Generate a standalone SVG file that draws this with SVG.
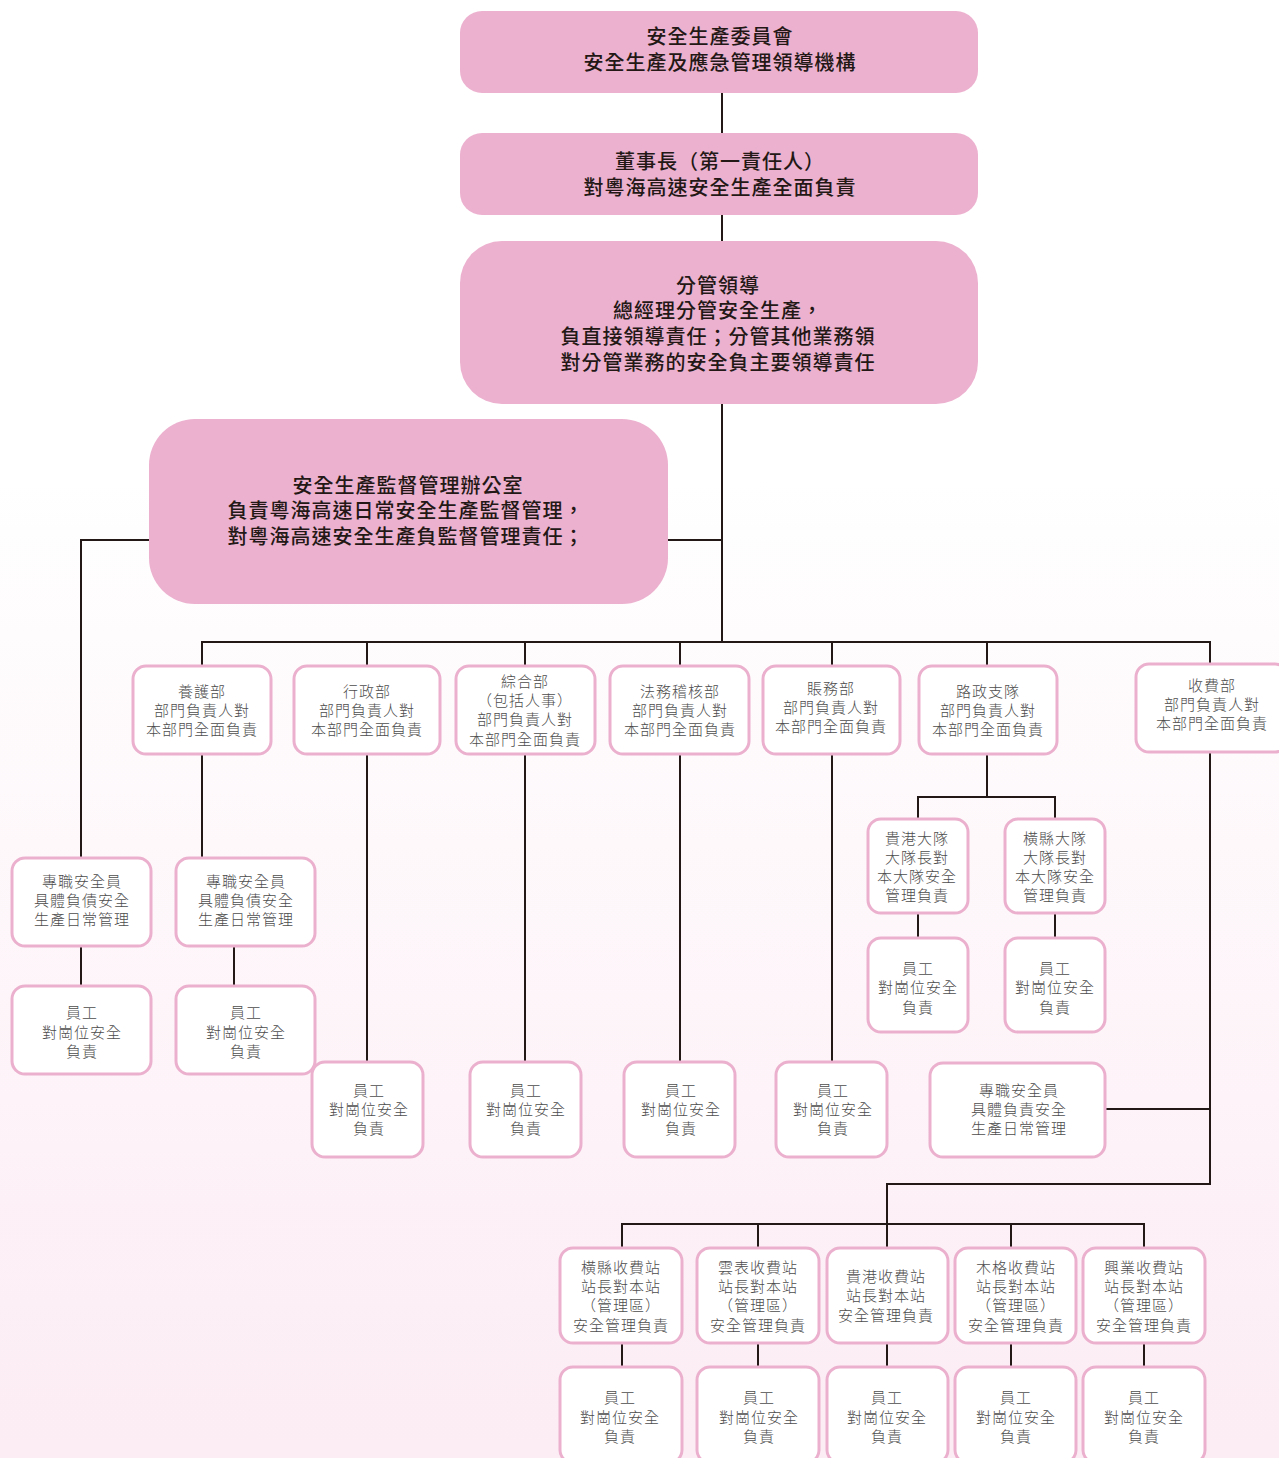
<svg xmlns="http://www.w3.org/2000/svg" width="1279" height="1458" viewBox="0 0 1279 1458">
<defs>
<linearGradient id="bg" x1="0" y1="0" x2="0" y2="1">
<stop offset="0" stop-color="#ffffff"/>
<stop offset="0.33" stop-color="#ffffff"/>
<stop offset="1" stop-color="#fcecf4"/>
</linearGradient>
</defs>
<style>
.big{fill:#ecb1cf;stroke:none}
.sm{fill:#ffffff;stroke:#ebb0cd;stroke-width:3}
.bt{font-family:"Noto Sans CJK TC","Noto Sans CJK SC",sans-serif;font-size:20px;font-weight:500;fill:#231815;text-anchor:middle;letter-spacing:1px}
.st{font-family:"Noto Sans CJK TC","Noto Sans CJK SC",sans-serif;font-size:15px;font-weight:300;fill:#4d4d4d;text-anchor:middle;letter-spacing:1px}
.ln{fill:none;stroke:#231815;stroke-width:2}
</style>
<rect x="0" y="0" width="1279" height="1458" fill="url(#bg)"/>
<g id="connectors" class="ln">
<path d="M722 93V133"/>
<path d="M722 215V241"/>
<path d="M722 404V642"/>
<path d="M668 540H722"/>
<path d="M149 540H81V858"/>
<path d="M202 666V642H1210V663"/>
<path d="M367 642V666"/>
<path d="M525 642V666"/>
<path d="M680 642V666"/>
<path d="M832 642V666"/>
<path d="M987 642V666"/>
<path d="M202 754V858"/>
<path d="M81 946V986"/>
<path d="M234 946V986"/>
<path d="M367 754V1062"/>
<path d="M525 754V1062"/>
<path d="M680 754V1062"/>
<path d="M832 754V1062"/>
<path d="M987 754V797"/>
<path d="M918 819V797H1055V819"/>
<path d="M918 913V938"/>
<path d="M1055 913V938"/>
<path d="M1210 752V1184H887V1248"/>
<path d="M1105 1109H1210"/>
<path d="M622 1248V1224H1144V1248"/>
<path d="M758 1224V1248"/>
<path d="M1011 1224V1248"/>
<path d="M622 1343V1367"/>
<path d="M758 1343V1367"/>
<path d="M887 1343V1367"/>
<path d="M1011 1343V1367"/>
<path d="M1144 1343V1367"/>
</g>
<g id="committee">
<rect class="big" x="460" y="11" width="518" height="82" rx="22"/>
<text class="bt" x="720" y="44">安全生產委員會</text>
<text class="bt" x="720" y="70">安全生產及應急管理領導機構</text>
</g>
<g id="chairman">
<rect class="big" x="460" y="133" width="518" height="82" rx="22"/>
<text class="bt" x="720" y="169">董事長（第一責任人）</text>
<text class="bt" x="720" y="195">對粵海高速安全生產全面負責</text>
</g>
<g id="leaders">
<rect class="big" x="460" y="241" width="518" height="163" rx="42"/>
<text class="bt" x="718" y="293">分管領導</text>
<text class="bt" x="718" y="318">總經理分管安全生產，</text>
<text class="bt" x="718" y="344">負直接領導責任；分管其他業務領</text>
<text class="bt" x="718" y="370">對分管業務的安全負主要領導責任</text>
</g>
<g id="office">
<rect class="big" x="149" y="419" width="519" height="185" rx="46"/>
<text class="bt" x="408" y="493">安全生產監督管理辦公室</text>
<text class="bt" x="406" y="518">負責粵海高速日常安全生產監督管理，</text>
<text class="bt" x="406" y="544">對粵海高速安全生產負監督管理責任；</text>
</g>
<g id="dept-yanghu">
<rect class="sm" x="133" y="666" width="138" height="88" rx="13"/>
<text class="st" x="202" y="697">養護部</text>
<text class="st" x="202" y="716">部門負責人對</text>
<text class="st" x="202" y="735">本部門全面負責</text>
</g>
<g id="dept-xingzheng">
<rect class="sm" x="294" y="666" width="146" height="88" rx="13"/>
<text class="st" x="367" y="697">行政部</text>
<text class="st" x="367" y="716">部門負責人對</text>
<text class="st" x="367" y="735">本部門全面負責</text>
</g>
<g id="dept-zonghe">
<rect class="sm" x="456" y="666" width="139" height="88" rx="13"/>
<text class="st" x="525" y="687">綜合部</text>
<text class="st" x="525" y="706">（包括人事）</text>
<text class="st" x="525" y="725">部門負責人對</text>
<text class="st" x="525" y="745">本部門全面負責</text>
</g>
<g id="dept-fawu">
<rect class="sm" x="610" y="666" width="139" height="88" rx="13"/>
<text class="st" x="680" y="697">法務稽核部</text>
<text class="st" x="680" y="716">部門負責人對</text>
<text class="st" x="680" y="735">本部門全面負責</text>
</g>
<g id="dept-zhangwu">
<rect class="sm" x="763" y="666" width="137" height="88" rx="13"/>
<text class="st" x="831" y="694">賬務部</text>
<text class="st" x="831" y="713">部門負責人對</text>
<text class="st" x="831" y="732">本部門全面負責</text>
</g>
<g id="dept-luzheng">
<rect class="sm" x="919" y="666" width="138" height="88" rx="13"/>
<text class="st" x="988" y="697">路政支隊</text>
<text class="st" x="988" y="716">部門負責人對</text>
<text class="st" x="988" y="735">本部門全面負責</text>
</g>
<g id="dept-shoufei">
<rect class="sm" x="1136" y="664" width="152" height="88" rx="13"/>
<text class="st" x="1212" y="691">收費部</text>
<text class="st" x="1212" y="710">部門負責人對</text>
<text class="st" x="1212" y="729">本部門全面負責</text>
</g>
<g id="safety-officer-1">
<rect class="sm" x="12" y="858" width="139" height="88" rx="13"/>
<text class="st" x="82" y="887">專職安全員</text>
<text class="st" x="82" y="906">具體負債安全</text>
<text class="st" x="82" y="925">生產日常管理</text>
</g>
<g id="staff-1">
<rect class="sm" x="12" y="986" width="139" height="88" rx="13"/>
<text class="st" x="82" y="1018">員工</text>
<text class="st" x="82" y="1038">對崗位安全</text>
<text class="st" x="82" y="1057">負責</text>
</g>
<g id="safety-officer-2">
<rect class="sm" x="176" y="858" width="139" height="88" rx="13"/>
<text class="st" x="246" y="887">專職安全員</text>
<text class="st" x="246" y="906">具體負債安全</text>
<text class="st" x="246" y="925">生產日常管理</text>
</g>
<g id="staff-2">
<rect class="sm" x="176" y="986" width="139" height="88" rx="13"/>
<text class="st" x="246" y="1018">員工</text>
<text class="st" x="246" y="1038">對崗位安全</text>
<text class="st" x="246" y="1057">負責</text>
</g>
<g id="staff-xingzheng">
<rect class="sm" x="312" y="1062" width="111" height="95" rx="13"/>
<text class="st" x="369" y="1096">員工</text>
<text class="st" x="369" y="1115">對崗位安全</text>
<text class="st" x="369" y="1134">負責</text>
</g>
<g id="staff-zonghe">
<rect class="sm" x="470" y="1062" width="111" height="95" rx="13"/>
<text class="st" x="526" y="1096">員工</text>
<text class="st" x="526" y="1115">對崗位安全</text>
<text class="st" x="526" y="1134">負責</text>
</g>
<g id="staff-fawu">
<rect class="sm" x="624" y="1062" width="111" height="95" rx="13"/>
<text class="st" x="681" y="1096">員工</text>
<text class="st" x="681" y="1115">對崗位安全</text>
<text class="st" x="681" y="1134">負責</text>
</g>
<g id="staff-zhangwu">
<rect class="sm" x="776" y="1062" width="111" height="95" rx="13"/>
<text class="st" x="833" y="1096">員工</text>
<text class="st" x="833" y="1115">對崗位安全</text>
<text class="st" x="833" y="1134">負責</text>
</g>
<g id="brigade-guigang">
<rect class="sm" x="868" y="819" width="100" height="94" rx="13"/>
<text class="st" x="917" y="844">貴港大隊</text>
<text class="st" x="917" y="863">大隊長對</text>
<text class="st" x="917" y="882">本大隊安全</text>
<text class="st" x="917" y="901">管理負責</text>
</g>
<g id="brigade-hengxian">
<rect class="sm" x="1005" y="819" width="100" height="94" rx="13"/>
<text class="st" x="1055" y="844">橫縣大隊</text>
<text class="st" x="1055" y="863">大隊長對</text>
<text class="st" x="1055" y="882">本大隊安全</text>
<text class="st" x="1055" y="901">管理負責</text>
</g>
<g id="staff-guigang-brigade">
<rect class="sm" x="868" y="938" width="100" height="94" rx="13"/>
<text class="st" x="918" y="974">員工</text>
<text class="st" x="918" y="993">對崗位安全</text>
<text class="st" x="918" y="1013">負責</text>
</g>
<g id="staff-hengxian-brigade">
<rect class="sm" x="1005" y="938" width="100" height="94" rx="13"/>
<text class="st" x="1055" y="974">員工</text>
<text class="st" x="1055" y="993">對崗位安全</text>
<text class="st" x="1055" y="1013">負責</text>
</g>
<g id="safety-officer-toll">
<rect class="sm" x="930" y="1063" width="175" height="94" rx="13"/>
<text class="st" x="1019" y="1096">專職安全員</text>
<text class="st" x="1019" y="1115">具體負責安全</text>
<text class="st" x="1019" y="1134">生產日常管理</text>
</g>
<g id="station-hengxian">
<rect class="sm" x="560" y="1248" width="122" height="95" rx="13"/>
<text class="st" x="621" y="1273">橫縣收費站</text>
<text class="st" x="621" y="1292">站長對本站</text>
<text class="st" x="621" y="1311">（管理區）</text>
<text class="st" x="621" y="1331">安全管理負責</text>
</g>
<g id="station-yunbiao">
<rect class="sm" x="697" y="1248" width="122" height="95" rx="13"/>
<text class="st" x="758" y="1273">雲表收費站</text>
<text class="st" x="758" y="1292">站長對本站</text>
<text class="st" x="758" y="1311">（管理區）</text>
<text class="st" x="758" y="1331">安全管理負責</text>
</g>
<g id="station-guigang">
<rect class="sm" x="827" y="1248" width="121" height="95" rx="13"/>
<text class="st" x="886" y="1282">貴港收費站</text>
<text class="st" x="886" y="1301">站長對本站</text>
<text class="st" x="886" y="1321">安全管理負責</text>
</g>
<g id="station-muge">
<rect class="sm" x="955" y="1248" width="121" height="95" rx="13"/>
<text class="st" x="1016" y="1273">木格收費站</text>
<text class="st" x="1016" y="1292">站長對本站</text>
<text class="st" x="1016" y="1311">（管理區）</text>
<text class="st" x="1016" y="1331">安全管理負責</text>
</g>
<g id="station-xingye">
<rect class="sm" x="1083" y="1248" width="122" height="95" rx="13"/>
<text class="st" x="1144" y="1273">興業收費站</text>
<text class="st" x="1144" y="1292">站長對本站</text>
<text class="st" x="1144" y="1311">（管理區）</text>
<text class="st" x="1144" y="1331">安全管理負責</text>
</g>
<g id="staff-station-hengxian">
<rect class="sm" x="560" y="1367" width="122" height="96" rx="13"/>
<text class="st" x="620" y="1403">員工</text>
<text class="st" x="620" y="1423">對崗位安全</text>
<text class="st" x="620" y="1442">負責</text>
</g>
<g id="staff-station-yunbiao">
<rect class="sm" x="697" y="1367" width="122" height="96" rx="13"/>
<text class="st" x="759" y="1403">員工</text>
<text class="st" x="759" y="1423">對崗位安全</text>
<text class="st" x="759" y="1442">負責</text>
</g>
<g id="staff-station-guigang">
<rect class="sm" x="827" y="1367" width="121" height="96" rx="13"/>
<text class="st" x="887" y="1403">員工</text>
<text class="st" x="887" y="1423">對崗位安全</text>
<text class="st" x="887" y="1442">負責</text>
</g>
<g id="staff-station-muge">
<rect class="sm" x="955" y="1367" width="121" height="96" rx="13"/>
<text class="st" x="1016" y="1403">員工</text>
<text class="st" x="1016" y="1423">對崗位安全</text>
<text class="st" x="1016" y="1442">負責</text>
</g>
<g id="staff-station-xingye">
<rect class="sm" x="1083" y="1367" width="122" height="96" rx="13"/>
<text class="st" x="1144" y="1403">員工</text>
<text class="st" x="1144" y="1423">對崗位安全</text>
<text class="st" x="1144" y="1442">負責</text>
</g>
</svg>
